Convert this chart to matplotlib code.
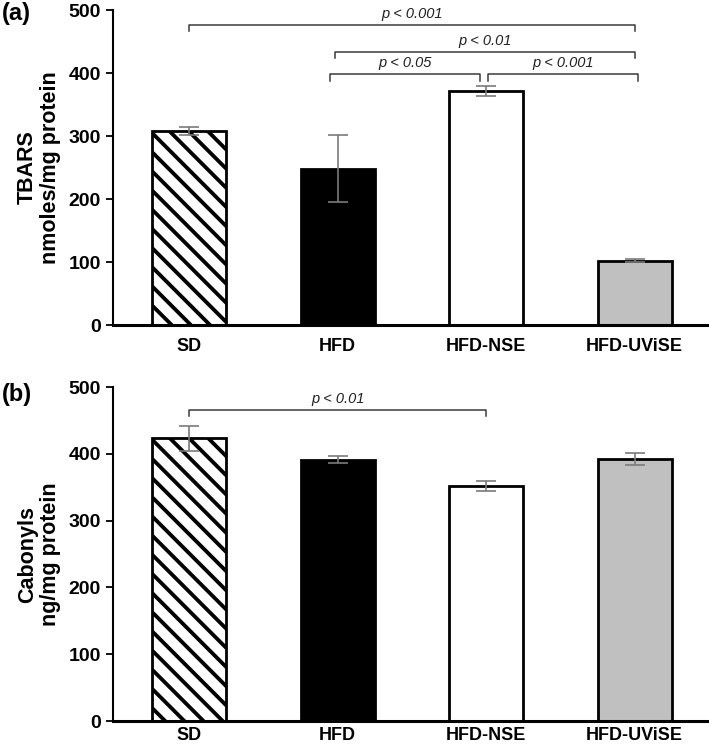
import matplotlib as mpl
import matplotlib.pyplot as plt

DPI = 115
k = 100 / DPI  # keep sizes as if drawn at 100 dpi

mpl.rc('font', family=['Liberation Sans', 'DejaVu Sans'], size=12 * k)
mpl.rc('hatch', linewidth=2.4)

groups = ['SD', 'HFD', 'HFD-NSE', 'HFD-UViSE']
tbars = [308, 248, 372, 102]
tbars_err = [7, 53, 8, 2]
carb = [423, 391, 352, 392]
carb_err = [19, 5, 8, 9]

fills = ['white', 'black', 'white', '#c0c0c0']
hatches = ['\\\\', None, None, None]

# (left, right, level, text) for significance brackets
brackets_a = [(0, 3, 476, 'p < 0.001'),
              (0.98, 3, 434, 'p < 0.01'),
              (0.95, 1.96, 398, 'p < 0.05'),
              (2.01, 3.02, 398, 'p < 0.001')]
brackets_b = [(0, 2, 466, 'p < 0.01')]

fig = plt.figure(figsize=(709 / DPI, 748 / DPI), dpi=DPI)
ax_a = fig.add_axes([0.160, 0.5655, 0.840, 0.4211])
ax_b = fig.add_axes([0.160, 0.0360, 0.840, 0.4466])


def draw(ax, vals, errs, brackets, ylabel, tag, tag_y, xpad):
    x = range(len(groups))
    for i in x:
        ax.bar(i, vals[i], width=0.5, color=fills[i], edgecolor='black',
               linewidth=2.0 * k, hatch=hatches[i], zorder=2)
    ax.errorbar(list(x), vals, yerr=errs, fmt='none', ecolor='#7a7a7a',
                elinewidth=1.2 * k, capsize=7 * k, capthick=1.2 * k, zorder=3)
    for l, r, h, t in brackets:
        ax.plot([l, l, r, r], [h - 10, h, h, h - 10], color='#3a3a3a',
                lw=1.1 * k, zorder=1, clip_on=False)
        ax.text((l + r) / 2, h + 6, t, ha='center', va='bottom',
                style='italic', fontsize=10.5 * k, color='#202020')
    ax.set_xlim(-0.51, 3.5)
    ax.set_ylim(0, 500)
    ax.set_yticks([0, 100, 200, 300, 400, 500])
    ax.set_xticks(list(x))
    ax.set_xticklabels(groups, fontweight='bold', fontsize=13 * k)
    for lab in ax.get_yticklabels():
        lab.set_fontweight('bold')
        lab.set_fontsize(14 * k)
    ax.tick_params(axis='x', length=0, pad=xpad * k)
    ax.tick_params(axis='y', length=5 * k, width=1.3 * k, pad=4 * k)
    ax.spines['top'].set_visible(False)
    ax.spines['right'].set_visible(False)
    ax.spines['left'].set_linewidth(1.5 * k)
    ax.spines['bottom'].set_linewidth(2.2 * k)
    ax.set_ylabel(ylabel, fontweight='bold', fontsize=15.5 * k,
                  linespacing=1.15)
    ax.yaxis.set_label_coords(-0.088, 0.5)
    fig.text(0.002, tag_y, tag, fontweight='bold', fontsize=17 * k,
             va='top', ha='left')


draw(ax_a, tbars, tbars_err, brackets_a, 'TBARS\nnmoles/mg protein', '(a)',
     0.997, 9)
draw(ax_b, carb, carb_err, brackets_b, 'Cabonyls\nng/mg protein', '(b)',
     0.488, 4)

fig.savefig('out.png', dpi=DPI)
